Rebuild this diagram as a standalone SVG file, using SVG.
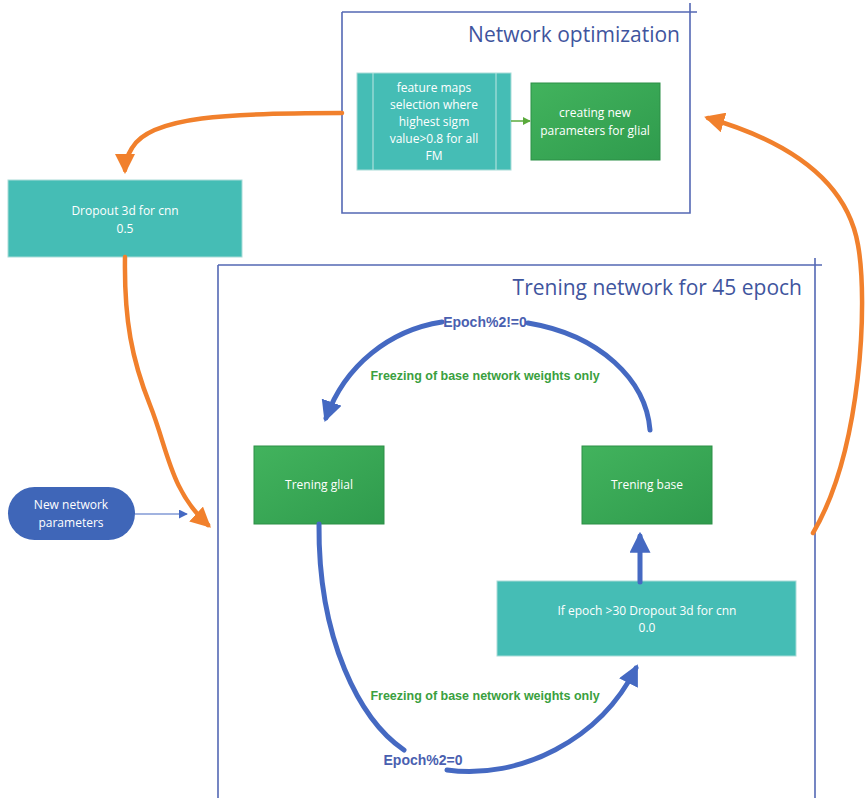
<svg xmlns="http://www.w3.org/2000/svg" width="868" height="800" viewBox="0 0 868 800">
  <style>
    .frame { fill: none; stroke: #5468b4; stroke-width: 1.6; }
    .title { font-family: "Open Sans", "Noto Sans", sans-serif; font-size: 21px; fill: #3f559e; }
    .teal { fill: #45bdb5; stroke: #a9dcd8; stroke-width: 1; }
    .green { fill: url(#gGreen); stroke: #2c8f47; stroke-width: 1; }
    .lbl { font-family: "Open Sans", "Noto Sans", sans-serif; font-size: 12px; fill: #ffffff; text-anchor: middle; }
    .note { font-family: "Liberation Sans", Arial, sans-serif; font-size: 12.5px; font-weight: bold; fill: #3aa040; text-anchor: middle; }
    .cond { font-family: "Liberation Sans", Arial, sans-serif; font-size: 14px; font-weight: bold; fill: #4a5fb0; text-anchor: middle; }
    .orange { fill: none; stroke: #f1802c; stroke-width: 4.5; stroke-linecap: round; }
    .blue { fill: none; stroke: #4569c2; stroke-width: 5; stroke-linecap: round; }
  </style>
  <defs>
    <linearGradient id="gGreen" x1="0" y1="0" x2="1" y2="1">
      <stop offset="0" stop-color="#42b35d"/>
      <stop offset="1" stop-color="#2f9b4d"/>
    </linearGradient>
    <marker id="mOrange" viewBox="0 0 10 10" refX="8" refY="5" markerWidth="4.5" markerHeight="4.5" orient="auto" markerUnits="strokeWidth">
      <path d="M0,0 L10,5 L0,10 z" fill="#f1802c"/>
    </marker>
    <marker id="mBlue" viewBox="0 0 10 10" refX="8" refY="5" markerWidth="4.2" markerHeight="4.2" orient="auto" markerUnits="strokeWidth">
      <path d="M0,0 L10,5 L0,10 z" fill="#4569c2"/>
    </marker>
    <marker id="mThin" viewBox="0 0 10 10" refX="9" refY="5" markerWidth="9" markerHeight="9" orient="auto" markerUnits="userSpaceOnUse">
      <path d="M0,0 L10,5 L0,10 z" fill="#4569c2"/>
    </marker>
    <marker id="mGreen" viewBox="0 0 10 10" refX="9" refY="5" markerWidth="8" markerHeight="8" orient="auto" markerUnits="userSpaceOnUse">
      <path d="M0,0 L10,5 L0,10 z" fill="#5aaa3c"/>
    </marker>
  </defs>

  <rect width="868" height="800" fill="#ffffff"/>

  <!-- container frames -->
  <g id="frame-optimization">
    <path class="frame" d="M342,12 H697 M690,3 V213 H342 V12"/>
    <text class="title" x="680" y="42" text-anchor="end">Network optimization</text>
  </g>
  <g id="frame-training">
    <path class="frame" d="M218,265 H822 M815,258 V798 M218,265 V798"/>
    <text class="title" x="802" y="295" text-anchor="end">Trening network for 45 epoch</text>
  </g>

  <!-- nodes -->
  <g id="node-feature-maps">
    <rect class="teal" x="357" y="73" width="154" height="97"/>
    <line x1="373" y1="73" x2="373" y2="170" stroke="#bfe6e3" stroke-width="1"/>
    <line x1="496" y1="73" x2="496" y2="170" stroke="#bfe6e3" stroke-width="1"/>
    <text class="lbl" x="434" y="92">feature maps</text>
    <text class="lbl" x="434" y="109">selection where</text>
    <text class="lbl" x="434" y="126">highest sigm</text>
    <text class="lbl" x="434" y="143">value&gt;0.8 for all</text>
    <text class="lbl" x="434" y="160">FM</text>
  </g>
  <g id="node-new-params">
    <rect class="green" x="531" y="83" width="129" height="77"/>
    <text class="lbl" x="595" y="117">creating new</text>
    <text class="lbl" x="595" y="135">parameters for glial</text>
  </g>
  <g id="node-dropout">
    <rect class="teal" x="8" y="180" width="234" height="77"/>
    <text class="lbl" x="125" y="215">Dropout 3d for cnn</text>
    <text class="lbl" x="125" y="233">0.5</text>
  </g>
  <g id="node-network-params">
    <rect x="8" y="487" width="127" height="53" rx="26.5" fill="#3f66b8"/>
    <text class="lbl" x="71" y="509">New network</text>
    <text class="lbl" x="71" y="527">parameters</text>
  </g>
  <g id="node-trening-glial">
    <rect class="green" x="254" y="446" width="130" height="78"/>
    <text class="lbl" x="319" y="489">Trening glial</text>
  </g>
  <g id="node-trening-base">
    <rect class="green" x="582" y="446" width="130" height="78"/>
    <text class="lbl" x="647" y="489">Trening base</text>
  </g>
  <g id="node-late-dropout">
    <rect class="teal" x="497" y="581" width="299" height="75"/>
    <text class="lbl" x="647" y="615">If epoch &gt;30 Dropout 3d for cnn</text>
    <text class="lbl" x="647" y="632">0.0</text>
  </g>

  <!-- connectors -->
  <g id="connectors">
    <line x1="511" y1="121" x2="530" y2="121" stroke="#5aaa3c" stroke-width="1.5" marker-end="url(#mGreen)"/>
    <line x1="135" y1="514" x2="187" y2="514" stroke="#4569c2" stroke-width="1.2" marker-end="url(#mThin)"/>

    <path class="orange" d="M342,113 C230,113 150,116 132,148 C127,156 125,164 125,170" marker-end="url(#mOrange)"/>
    <path class="orange" d="M125,257 C124,320 132,360 150,405 C168,450 170,490 208,525" marker-end="url(#mOrange)"/>
    <path class="orange" d="M813,533 C862,450 868,300 858,245 C845,170 770,136 708,118" marker-end="url(#mOrange)"/>

    <path class="blue" d="M650,430 C646,380 600,335 528,323"/>
    <path class="blue" d="M442,322 C390,330 345,365 326,418" marker-end="url(#mBlue)"/>
    <path class="blue" d="M640,582 V536" marker-end="url(#mBlue)"/>
    <path class="blue" d="M319,524 C318,640 360,720 404,750"/>
    <path class="blue" d="M447,770 C520,780 600,740 636,668" marker-end="url(#mBlue)"/>

    <text class="cond" x="485" y="327">Epoch%2!=0</text>
    <text class="cond" x="423" y="765">Epoch%2=0</text>
    <text class="note" x="485" y="380">Freezing of base network weights only</text>
    <text class="note" x="485" y="700">Freezing of base network weights only</text>
  </g>
</svg>
